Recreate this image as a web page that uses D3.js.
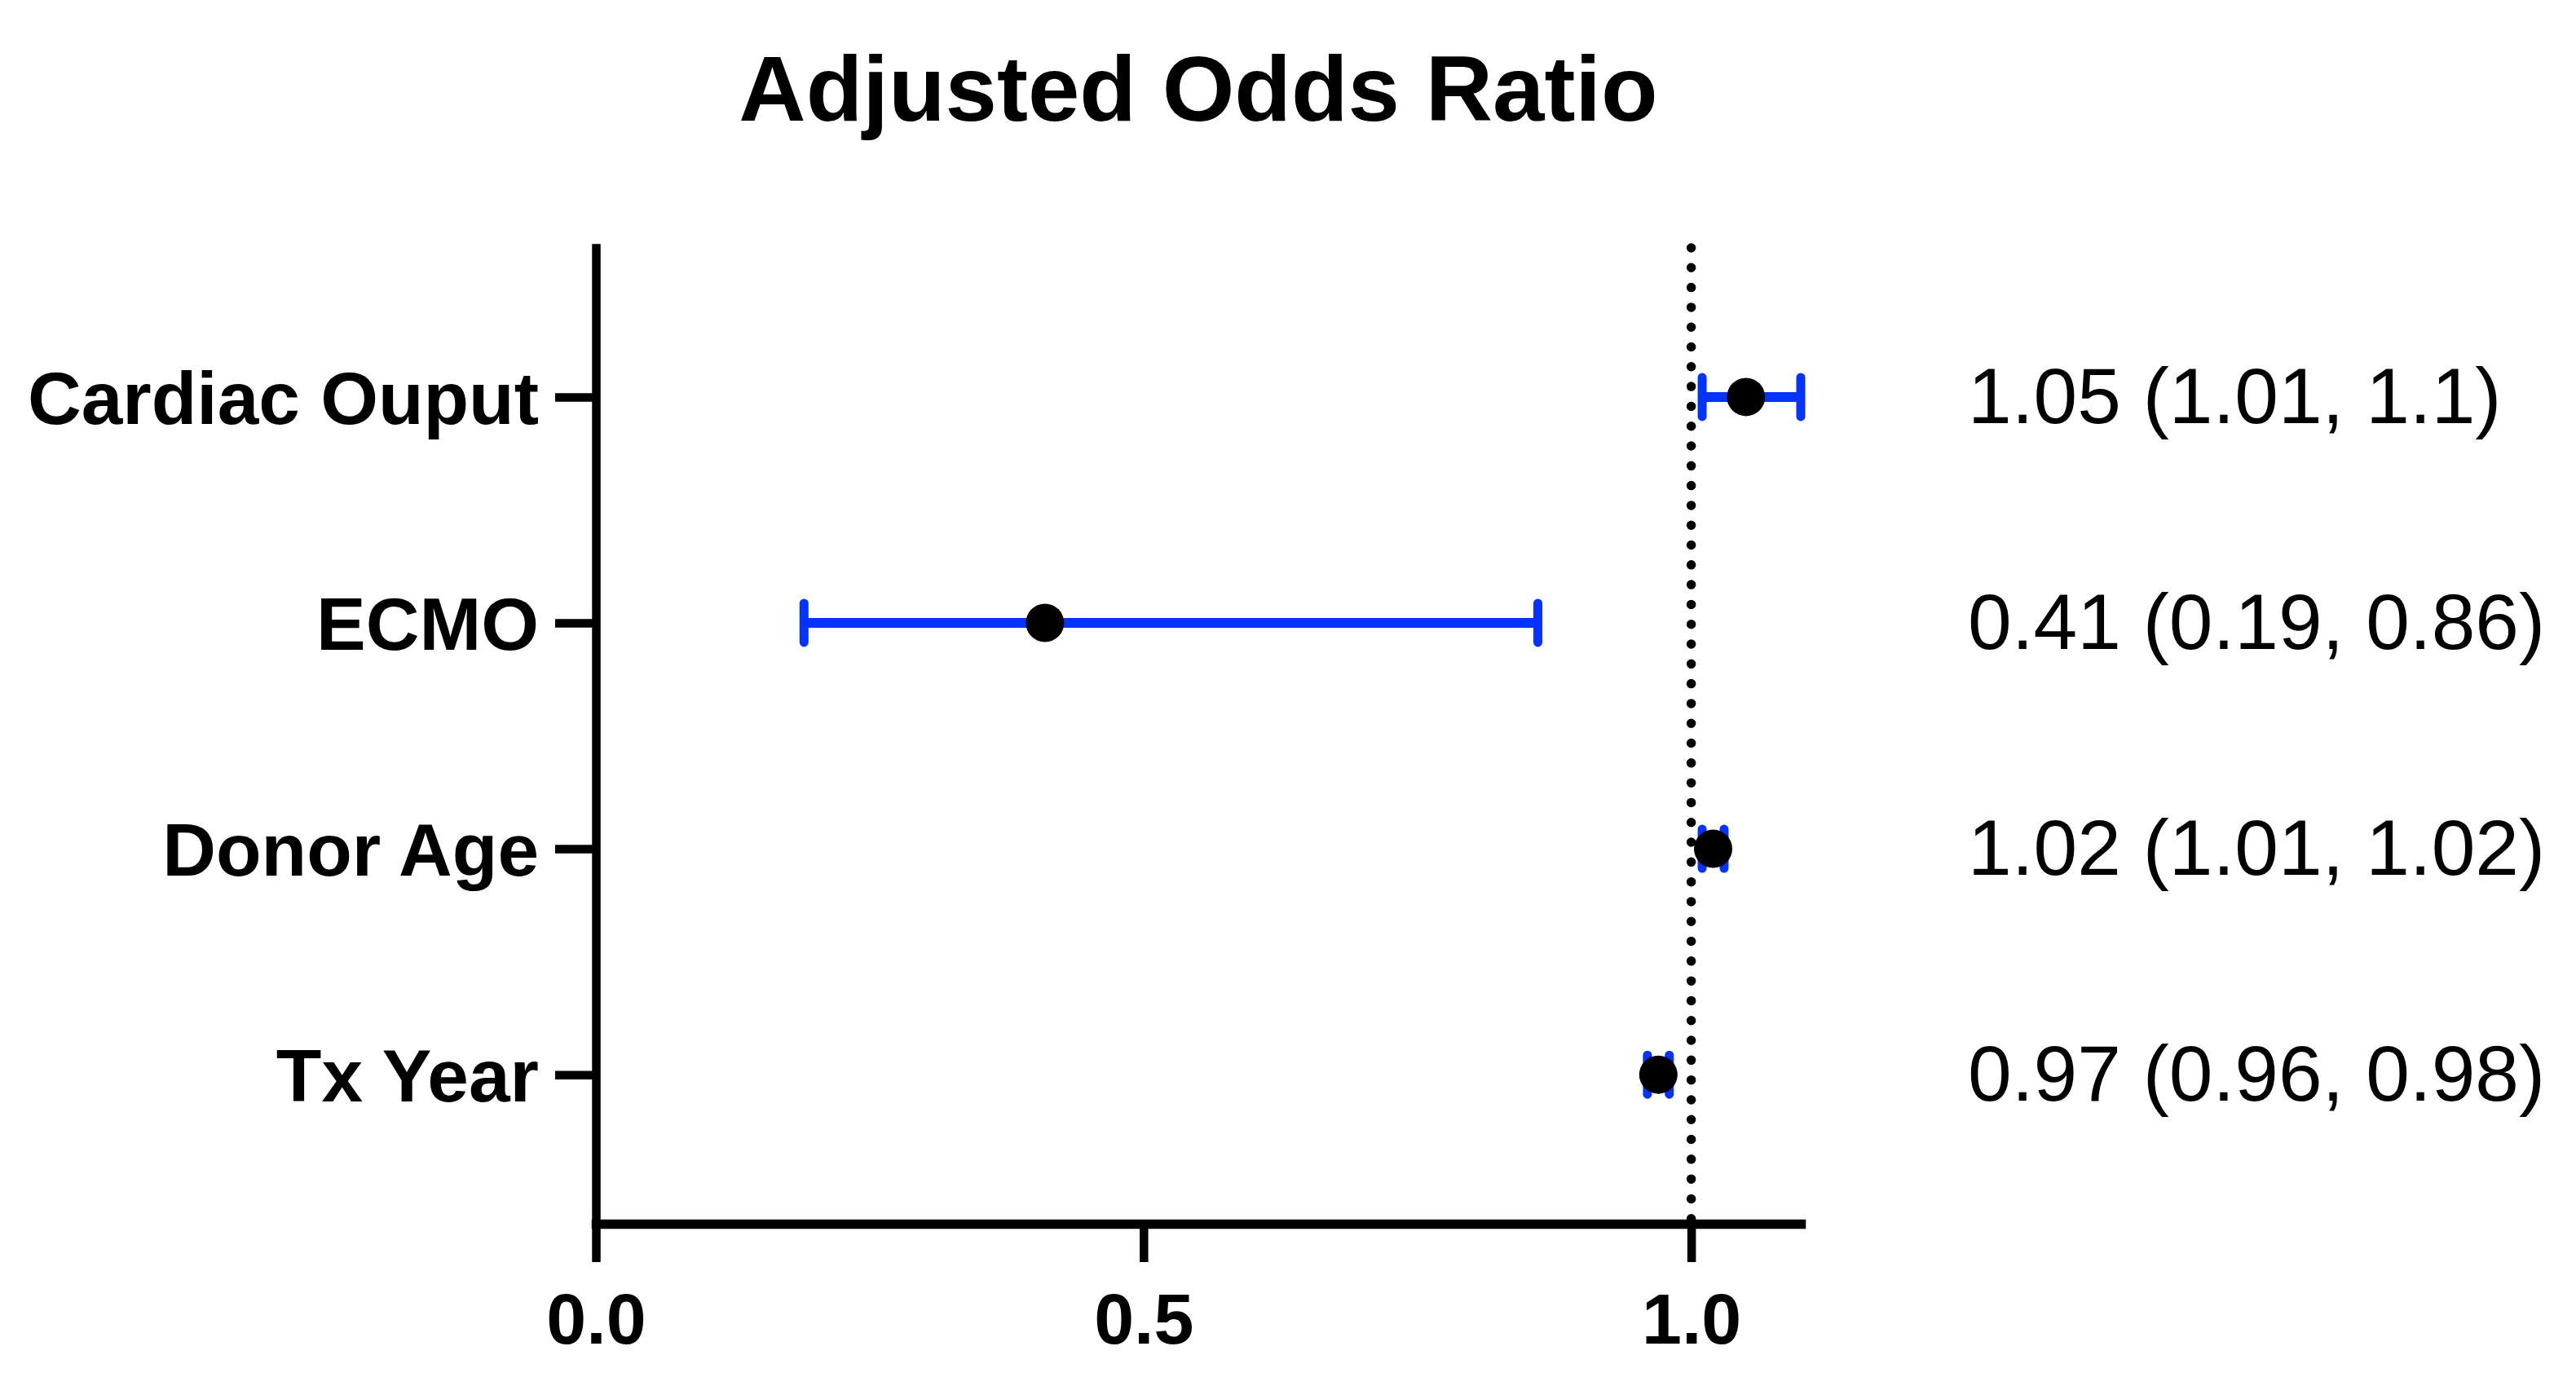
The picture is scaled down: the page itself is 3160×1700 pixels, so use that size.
<!DOCTYPE html>
<html>
<head>
<meta charset="utf-8">
<title>Adjusted Odds Ratio</title>
<script src="https://cdn.jsdelivr.net/npm/d3@7/dist/d3.min.js"></script>
<style>
	html, body { margin: 0; padding: 0; background: #ffffff; }
	svg { display: block; }
	text { font-family: Arial, "Liberation Sans", Helvetica, sans-serif; fill: #000; }
</style>
</head>
<body>
<div id="chart_forest"></div>
<script>
////////////////////////////////////////////////////////////////////////////////////////
//데이터
////////////////////////////////////////////////////////////////////////////////////////
var categories = ["Cardiac Ouput", "ECMO", "Donor Age", "Tx Year"];
var oddsRatio  = [1.05, 0.41, 1.02, 0.97];
var ciLower    = [1.01, 0.19, 1.01, 0.96];
var ciUpper    = [1.10, 0.86, 1.03, 0.98];
var ciLabels   = ["1.05 (1.01, 1.1)", "0.41 (0.19, 0.86)", "1.02 (1.01, 1.02)", "0.97 (0.96, 0.98)"];
var xTicks     = [0, 0.5, 1.0];
var xDomain    = [0, 1.1];
var refValue   = 1.0;
var chartTitle = "Adjusted Odds Ratio";

////////////////////////////////////////////////////////////////////////////////////////
//포레스트 플롯
////////////////////////////////////////////////////////////////////////////////////////
function drawForestPlot() {
	var width = 3160, height = 1700;
	var plot = {left: 731, right: 2209, top: 304, bottom: 1501};
	var blue = "#0433ff";
	var lineW = 10.5;

	var svg = d3.select("#chart_forest")
		.append("svg")
		.attr("width", width)
		.attr("height", height)
		.style("background", "#fff");

	var x = d3.scaleLinear().domain(xDomain).range([plot.left, plot.right]);
	var y = d3.scalePoint().domain(categories).range([plot.top, plot.bottom]).padding(0.66);

	// 타이틀
	svg.append("text")
		.attr("x", (plot.left + plot.right) / 2)
		.attr("y", 148)
		.attr("text-anchor", "middle")
		.style("font-size", "114px")
		.style("font-weight", "bold")
		.text(chartTitle);

	// 기준선 (OR = 1)
	svg.append("line")
		.attr("x1", x(refValue)).attr("x2", x(refValue))
		.attr("y1", plot.top).attr("y2", plot.bottom)
		.attr("stroke", "#000")
		.attr("stroke-width", 11.5)
		.attr("stroke-linecap", "round")
		.attr("stroke-dasharray", "0.001 24.3");

	// Y 축
	var yAxis = svg.append("g")
		.attr("transform", `translate(${plot.left},0)`)
		.call(d3.axisLeft(y).tickSize(50).tickSizeOuter(0).tickPadding(20));
	yAxis.select(".domain").attr("stroke-width", lineW).attr("stroke-linecap", "square");
	yAxis.selectAll(".tick line").attr("stroke-width", lineW);
	yAxis.selectAll(".tick text")
		.attr("dy", "0.36em")
		.style("font-size", "91px")
		.style("font-weight", "bold")
		.style("font-family", "Arial, 'Liberation Sans', Helvetica, sans-serif");

	// X 축
	var xAxis = svg.append("g")
		.attr("transform", `translate(0,${plot.bottom})`)
		.call(d3.axisBottom(x).tickValues(xTicks).tickSize(47).tickSizeOuter(0).tickPadding(38)
			.tickFormat(d3.format(".1f")));
	xAxis.select(".domain").attr("stroke-width", lineW + 1).attr("stroke-linecap", "square");
	xAxis.selectAll(".tick line").attr("stroke-width", lineW);
	xAxis.selectAll(".tick text")
		.style("font-size", "88px")
		.style("font-weight", "bold")
		.style("font-family", "Arial, 'Liberation Sans', Helvetica, sans-serif");

	var rows = categories.map(function (c, i) {
		return {name: c, or: oddsRatio[i], lo: ciLower[i], hi: ciUpper[i], label: ciLabels[i]};
	});

	// 신뢰구간
	var g = svg.append("g");
	g.selectAll(".ciLine")
		.data(rows)
		.join("line")
		.attr("class", "ciLine")
		.attr("x1", function (d) { return x(d.lo); })
		.attr("x2", function (d) { return x(d.hi); })
		.attr("y1", function (d) { return y(d.name); })
		.attr("y2", function (d) { return y(d.name); })
		.attr("stroke", blue)
		.attr("stroke-width", 12);

	["lo", "hi"].forEach(function (k) {
		g.selectAll(".cap-" + k)
			.data(rows)
			.join("line")
			.attr("class", "cap-" + k)
			.attr("x1", function (d) { return x(d[k]); })
			.attr("x2", function (d) { return x(d[k]); })
			.attr("y1", function (d) { return y(d.name) - 24; })
			.attr("y2", function (d) { return y(d.name) + 24; })
			.attr("stroke", blue)
			.attr("stroke-width", 11)
			.attr("stroke-linecap", "round");
	});

	// 점
	g.selectAll(".dot")
		.data(rows)
		.join("circle")
		.attr("class", "dot")
		.attr("cx", function (d) { return x(d.or); })
		.attr("cy", function (d) { return y(d.name); })
		.attr("r", 23.5)
		.attr("fill", "#000");

	// 오른쪽 라벨
	svg.append("g").selectAll(".ciText")
		.data(rows)
		.join("text")
		.attr("class", "ciText")
		.attr("x", 2414)
		.attr("y", function (d) { return y(d.name); })
		.attr("dy", "0.33em")
		.style("font-size", "96.5px")
		.text(function (d) { return d.label; });
}

drawForestPlot();
</script>
</body>
</html>
